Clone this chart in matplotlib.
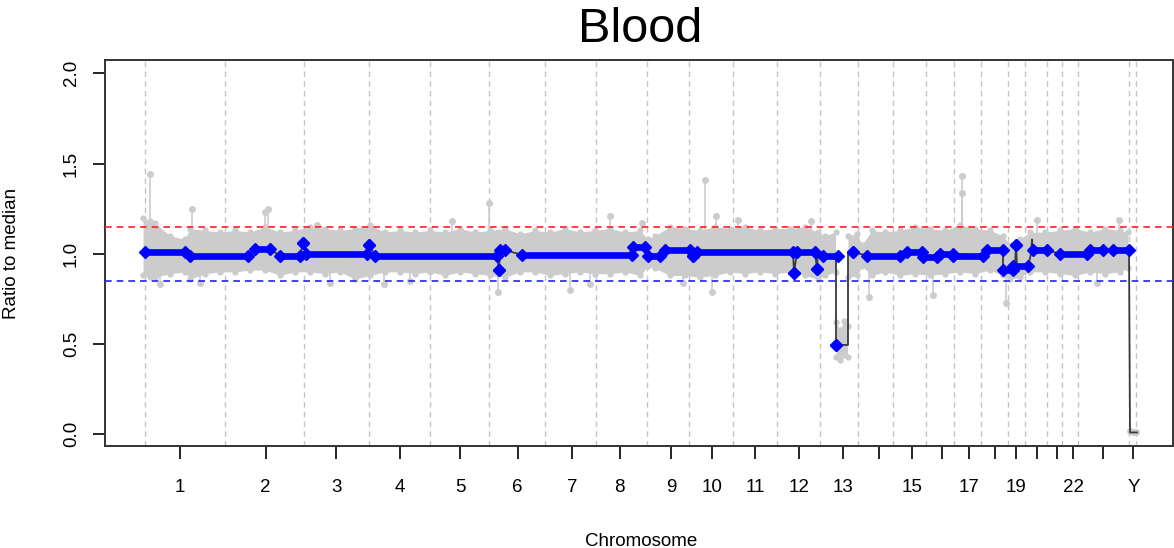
import matplotlib.pyplot as plt

plt.rcParams['font.family'] = ['Liberation Sans', 'DejaVu Sans']

# x positions are in plot units (bin index scale)
chrom_names = [str(i) for i in range(1, 23)] + ["X", "Y"]
chrom_ticks = [180, 265.7, 336.4, 399.6, 460, 517.5, 571.8, 619.6, 671.2, 711.9,
               755.3, 799.2, 842.6, 879, 911.9, 942.3, 969.1, 994.6, 1015.8, 1037,
               1057.1, 1073.4, 1103.4, 1133.4]
shown_labels = ["1", "2", "3", "4", "5", "6", "7", "8", "9", "10", "11", "12",
                "13", "15", "17", "19", "22", "Y"]
chrom_bounds = [145.4, 225, 303.6, 368.6, 430, 489, 544.6, 596, 647, 689, 733,
                776.5, 820.3, 857.8, 892.8, 925.7, 954, 981, 1007.6, 1025.3,
                1046.5, 1061.7, 1078.3, 1128.8, 1136]

# envelope of the grey ratio cloud
band_x = [143, 150, 155, 170, 185, 190, 205, 220, 235, 250, 265, 280, 295, 310,
          325, 340, 355, 370, 385, 400, 415, 430, 445, 460, 475, 490, 505, 520,
          535, 550, 565, 580, 595, 610, 625, 640, 648, 655, 670, 685, 700, 715,
          730, 745, 760, 775, 790, 805, 818, 825, 835.5,
          836, 840, 844, 847.5,
          848, 857, 862, 872, 885, 900, 915, 930, 945, 960, 975, 990, 1003, 1010,
          1020, 1030, 1045, 1060, 1075, 1090, 1105, 1120, 1128]
band_hi = [1.20, 1.18, 1.17, 1.10, 1.08, 1.14, 1.13, 1.12, 1.13, 1.12, 1.15, 1.12,
           1.13, 1.15, 1.14, 1.13, 1.14, 1.16, 1.12, 1.13, 1.12, 1.13, 1.12, 1.14,
           1.12, 1.13, 1.14, 1.11, 1.13, 1.12, 1.14, 1.12, 1.13, 1.14, 1.12, 1.13,
           1.08, 1.10, 1.15, 1.14, 1.13, 1.15, 1.14, 1.15, 1.13, 1.14, 1.14, 1.15,
           1.12, 1.10, 1.12,
           0.62, 0.58, 0.63, 0.60,
           1.10, 1.11, 1.05, 1.13, 1.12, 1.13, 1.15, 1.14, 1.13, 1.16, 1.14, 1.13,
           1.10, 1.05, 1.08, 1.12, 1.12, 1.13, 1.14, 1.12, 1.14, 1.13, 1.12]
band_lo = [0.88, 0.87, 0.87, 0.89, 0.90, 0.86, 0.89, 0.90, 0.90, 0.91, 0.91, 0.88,
           0.90, 0.90, 0.89, 0.90, 0.86, 0.88, 0.90, 0.90, 0.89, 0.90, 0.88, 0.90,
           0.89, 0.88, 0.87, 0.90, 0.90, 0.88, 0.89, 0.90, 0.89, 0.89, 0.90, 0.88,
           0.93, 0.92, 0.88, 0.88, 0.87, 0.88, 0.90, 0.89, 0.90, 0.89, 0.90, 0.88,
           0.86, 0.88, 0.90,
           0.43, 0.41, 0.44, 0.43,
           0.87, 0.88, 0.93, 0.88, 0.90, 0.88, 0.89, 0.88, 0.89, 0.90, 0.89, 0.91,
           0.88, 0.86, 0.87, 0.90, 0.90, 0.89, 0.88, 0.90, 0.89, 0.90, 0.92]

# isolated grey outliers
spike_x = [150, 192, 265, 268, 317, 452, 489, 610, 642, 705, 716, 738, 811, 962,
           962, 1037, 1119, 160, 330, 498, 570, 712, 869, 933, 1006, 200, 384,
           410, 590, 683, 1097]
spike_y = [1.44, 1.25, 1.23, 1.25, 1.16, 1.18, 1.28, 1.21, 1.17, 1.41, 1.21, 1.19,
           1.18, 1.43, 1.335, 1.19, 1.19, 0.83, 0.84, 0.79, 0.80, 0.79, 0.76, 0.77,
           0.73, 0.84, 0.83, 0.85, 0.83, 0.84, 0.84]

# chromosome Y bins
y_chr_x = [1130, 1133, 1136]
y_chr_y = [0.02, 0.01, 0.01]

# segmented calls (blue)
seg_start = [145, 190, 255, 280, 303, 306, 369, 375, 499, 500, 522, 633, 648, 665,
             693, 697, 794, 797, 817, 823, 836, 853, 867, 907, 923, 940, 953, 987,
             1003, 1013, 1016, 1033, 1060, 1090, 1113]
seg_end = [185, 248, 270, 300, 303, 367, 369, 497, 499, 505, 632, 645, 660, 690,
           693, 793, 794, 815, 817, 838, 836, 853, 900, 922, 937, 953, 983, 1003,
           1013, 1028, 1016, 1047, 1087, 1103, 1129]
seg_val = [1.01, 0.99, 1.025, 0.99, 1.06, 1.0, 1.05, 0.99, 0.91, 1.02, 0.995, 1.04,
           0.99, 1.02, 0.99, 1.01, 0.895, 1.01, 0.914, 0.99, 0.495, 1.01, 0.99, 1.01,
           0.985, 1.0, 0.99, 1.02, 0.91, 0.93, 1.05, 1.02, 1.0, 1.02, 1.02]

# black segment path
path_x = [145, 185, 190, 248, 255, 270, 280, 300, 303, 306, 367, 369, 375, 497,
          499, 500, 505, 522, 632, 633, 645, 648, 660, 665, 690, 693, 697, 793,
          794, 797, 815, 817, 818, 823, 836, 836, 848, 848, 853, 867, 900, 907,
          922, 923, 937, 940, 953, 983, 987, 1003, 1003, 1013, 1013, 1015, 1016,
          1017, 1028, 1031, 1032, 1033, 1047, 1060, 1087, 1090, 1103, 1113, 1129,
          1130, 1137]
path_y = [1.01, 1.01, 0.99, 0.99, 1.025, 1.025, 0.99, 0.99, 1.06, 1.0, 1.0, 1.05,
          0.99, 0.995, 0.91, 1.02, 1.02, 0.995, 0.995, 1.04, 1.04, 0.99, 0.99, 1.02,
          1.02, 0.99, 1.01, 1.01, 0.895, 1.01, 1.01, 0.914, 1.02, 0.99, 0.99, 0.495,
          0.495, 1.01, 1.01, 0.99, 0.99, 1.01, 1.01, 0.985, 0.985, 1.0, 1.0, 0.99,
          1.02, 1.02, 0.91, 0.91, 0.93, 0.93, 1.05, 0.93, 0.93, 1.0, 1.08, 1.02,
          1.02, 1.0, 1.0, 1.02, 1.02, 1.02, 1.02, 0.01, 0.01]

GAIN = 1.15
LOSS = 0.85

fig = plt.figure(figsize=(11.74, 5.48), dpi=100)
ax = fig.add_axes([105 / 1174, 102 / 548, 1068 / 1174, 386 / 548])

for b in chrom_bounds:
    ax.axvline(b, color='#c4c4c4', lw=1, dashes=(4, 3), zorder=1)

grey = '#cccccc'
ax.fill_between(band_x, band_lo, band_hi, color=grey, lw=0, zorder=2)
ax.plot(band_x, band_hi, 'o', color=grey, ms=3.5, zorder=2)
ax.plot(band_x, band_lo, 'o', color=grey, ms=3.5, zorder=2)
for sx, sy in zip(spike_x, spike_y):
    ax.plot([sx, sx], [1.0, sy], color=grey, lw=1.2, zorder=2)
ax.plot(spike_x, spike_y, 'o', color=grey, ms=4, zorder=2)
ax.plot(y_chr_x, y_chr_y, 'o-', color=grey, ms=4, lw=1.2, zorder=2)

ax.plot(path_x, path_y, color='#3a3a3a', lw=1.3, zorder=3)

for s, e, v in zip(seg_start, seg_end, seg_val):
    ax.plot([s, e], [v, v], color='#0000ff', lw=4.8, solid_capstyle='butt', zorder=4)
    ax.plot([s, e], [v, v], 'D', color='#0000ff', ms=6, zorder=4)

ax.axhline(GAIN, color='#ff2020', lw=1.2, dashes=(4, 3), zorder=5)
ax.axhline(LOSS, color='#2020ff', lw=1.2, dashes=(4, 3), zorder=5)

ax.set_xlim(105, 1173)
ax.set_ylim(-0.065, 2.074)

ax.set_xticks(chrom_ticks)
ax.set_xticklabels([n if n in shown_labels else "" for n in chrom_names])
ax.set_yticks([0, 0.5, 1.0, 1.5, 2.0])
ax.set_yticklabels(["0.0", "0.5", "1.0", "1.5", "2.0"], rotation=90, va='center')
ax.tick_params(axis='x', length=9.5, width=1.2, pad=14, labelsize=13.5)
ax.tick_params(axis='y', length=9, width=1.2, pad=9, labelsize=13.5)
for sp in ax.spines.values():
    sp.set_linewidth(1.4)
    sp.set_color('#333333')

ax.set_xlabel("Chromosome", fontsize=13.5)
ax.xaxis.set_label_coords(0.502, -0.225)
ax.set_ylabel("Ratio to median", fontsize=13.5)
ax.yaxis.set_label_coords(-0.0796, 0.5)

fig.text(640 / 1174, 1 - 30 / 548, "Blood", fontsize=35, ha='center', va='center')

plt.savefig('out.png', dpi=100)
